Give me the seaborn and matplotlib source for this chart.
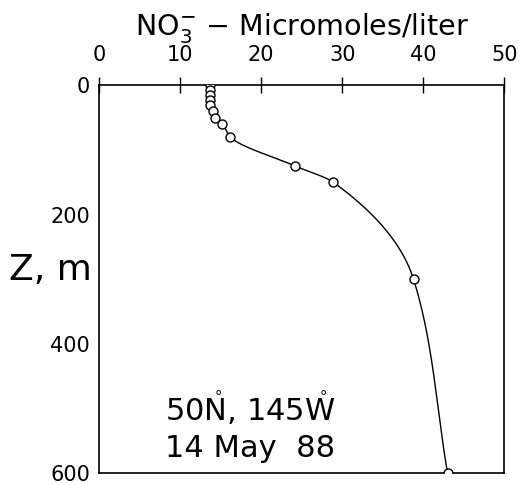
import numpy as np
import pandas as pd
import matplotlib
matplotlib.use("Agg")
import matplotlib.pyplot as plt
import seaborn as sns

# Data
depth_m = [0, 8, 15, 23, 30, 40, 50, 60, 80, 125, 150, 300, 600]
nitrate = [13.7, 13.7, 13.7, 13.7, 13.7, 14.0, 14.3, 15.2, 16.2, 24.2, 28.9, 38.8, 43.0]
x_ticks = [0, 10, 20, 30, 40, 50]
y_ticks = [0, 100, 200, 300, 400, 500, 600]
y_tick_labels = ["0", "", "200", "", "400", "", "600"]


def pchip(xk, yk, xq):
    xk = np.asarray(xk, float); yk = np.asarray(yk, float)
    h = np.diff(xk); d = np.diff(yk) / h
    n = len(xk); m = np.zeros(n)
    for k in range(1, n - 1):
        if d[k - 1] * d[k] > 0:
            w1 = 2 * h[k] + h[k - 1]; w2 = h[k] + 2 * h[k - 1]
            m[k] = (w1 + w2) / (w1 / d[k - 1] + w2 / d[k])
    m[0] = d[0]; m[-1] = d[-1]
    idx = np.clip(np.searchsorted(xk, xq) - 1, 0, n - 2)
    t = (xq - xk[idx]) / h[idx]
    h00 = 2 * t**3 - 3 * t**2 + 1; h10 = t**3 - 2 * t**2 + t
    h01 = -2 * t**3 + 3 * t**2; h11 = t**3 - t**2
    return h00 * yk[idx] + h10 * h[idx] * m[idx] + h01 * yk[idx + 1] + h11 * h[idx] * m[idx + 1]


pts = pd.DataFrame({"depth": depth_m, "no3": nitrate})
zq = np.linspace(min(depth_m), max(depth_m), 600)
curve = pd.DataFrame({"depth": zq, "no3": pchip(depth_m, nitrate, zq)})

sns.set_style("white")
plt.rcParams["font.family"] = ["DejaVu Sans"]
plt.rcParams["text.color"] = "black"
plt.rcParams["axes.labelcolor"] = "black"
plt.rcParams["mathtext.fontset"] = "dejavusans"

fig = plt.figure(figsize=(5.19, 4.84), dpi=100)
ax = fig.add_axes([0.1908, 0.022, 0.781, 0.802])

sns.lineplot(data=curve, x="no3", y="depth", sort=False, estimator=None,
             color="black", linewidth=1.0, ax=ax)
sns.scatterplot(data=pts, x="no3", y="depth", marker="o", s=42,
                facecolor="white", edgecolor="black", linewidth=1.0, ax=ax, zorder=3)

ax.set_xlim(0, 50)
ax.set_ylim(600, 0)
ax.xaxis.tick_top()
ax.xaxis.set_label_position("top")
ax.set_xticks(x_ticks)
ax.set_xticklabels([str(v) for v in x_ticks])
ax.set_yticks(y_ticks)
ax.set_yticklabels(y_tick_labels)
ax.tick_params(axis="both", direction="inout", length=11, width=1.0,
               labelsize=15, colors="black")
ax.tick_params(axis="x", pad=9)
ax.tick_params(axis="y", pad=1)

for s in ax.spines.values():
    s.set_visible(True)
    s.set_color("black")
    s.set_linewidth(1.2)

ax.set_xlabel(r"NO$_3^{-}$ $-$ Micromoles/liter", fontsize=20.5, labelpad=7)
ax.set_ylabel("Z, m", fontsize=26, rotation=0, ha="right", va="center")
ax.yaxis.set_label_coords(-0.017, 0.524)

ax.text(8.1, 498, r"50$\mathring{\mathrm{N}}$, 145$\mathring{\mathrm{W}}$",
        fontsize=22, ha="left", va="center")
ax.text(8.1, 562, "14 May  88", fontsize=22, ha="left", va="center")

fig.savefig("out.png", dpi=100)
